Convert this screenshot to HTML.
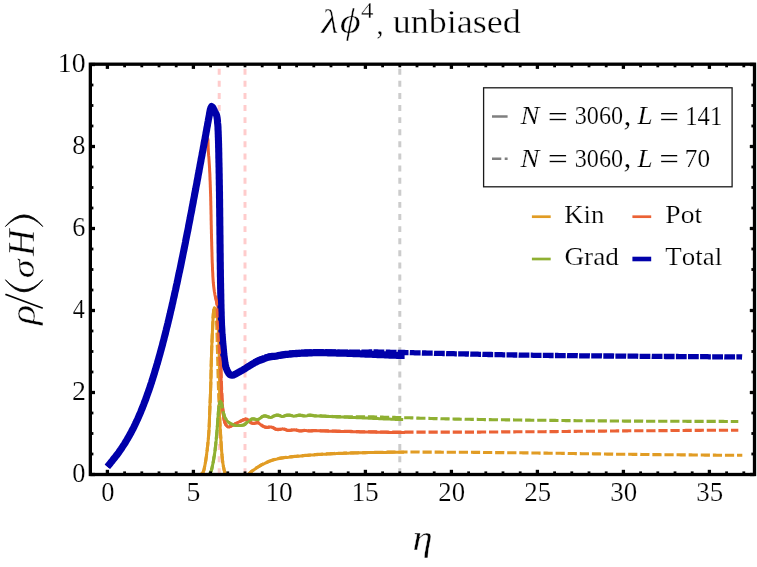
<!DOCTYPE html>
<html><head><meta charset="utf-8"><title>plot</title>
<style>html,body{margin:0;padding:0;background:#fff}svg{display:block}text{font-family:"Liberation Serif",serif;fill:#000;font-kerning:none;white-space:pre}.i{font-style:italic}.e{stroke:#fff;stroke-width:0.38px}.e2{stroke:#fff;stroke-width:0.2px}</style></head><body>
<svg width="757" height="567" viewBox="0 0 757 567">
<rect width="757" height="567" fill="#fff"/>
<defs><clipPath id="c"><rect x="90.3" y="64.2" width="664.1" height="410.3"/></clipPath></defs>
<g clip-path="url(#c)" fill="none" stroke-linejoin="round">
<line x1="219.2" y1="64.2" x2="219.2" y2="474.5" stroke="#ffcccc" stroke-width="3" stroke-dasharray="5.95 6.16" stroke-dashoffset="7.6"/>
<line x1="245.0" y1="64.2" x2="245.0" y2="474.5" stroke="#ffcccc" stroke-width="3" stroke-dasharray="5.95 6.16" stroke-dashoffset="7.6"/>
<line x1="399.8" y1="64.2" x2="399.8" y2="474.5" stroke="#cccccc" stroke-width="3" stroke-dasharray="5.95 6.16" stroke-dashoffset="7.6"/>
<path d="M107.4 474.5L108.9 474.5L110.4 474.5L111.9 474.5L113.4 474.5L114.9 474.5L116.4 474.5L117.9 474.5L119.4 474.5L120.9 474.5L122.4 474.5L123.9 474.5L125.4 474.5L127.0 474.5L128.5 474.5L130.0 474.5L131.5 474.5L133.0 474.5L134.5 474.5L136.0 474.5L137.5 474.5L139.0 474.5L140.5 474.5L142.0 474.5L143.5 474.5L145.0 474.5L146.5 474.5L148.0 474.5L149.5 474.5L151.0 474.5L152.5 474.5L154.0 474.5L155.5 474.5L157.0 474.5L158.5 474.5L160.0 474.5L161.5 474.5L163.0 474.5L164.5 474.5L166.0 474.5L167.5 474.5L169.0 474.5L170.5 474.5L172.0 474.5L173.5 474.5L175.0 474.5L176.5 474.5L178.1 474.5L179.6 474.5L181.1 474.5L182.6 474.5L184.1 474.5L185.6 474.5L187.1 474.5L188.6 474.5L190.1 474.5L191.6 474.5L193.1 474.5L194.6 474.5L196.1 474.5L197.6 474.5L199.2 474.4L200.7 474.4L201.9 473.9L202.9 472.6L203.5 471.3L203.9 469.9L204.3 468.4L204.6 466.9L204.9 465.4L205.2 463.9L205.4 462.5L205.7 461.0L205.9 459.5L206.1 458.0L206.4 456.5L206.6 455.0L206.7 453.5L206.9 452.0L207.1 450.5L207.3 449.0L207.4 447.5L207.6 446.1L207.8 444.6L207.9 443.1L208.1 441.6L208.2 440.1L208.4 438.6L208.5 437.1L208.6 435.6L208.7 434.1L208.8 432.6L208.9 431.1L209.0 429.6L209.1 428.1L209.2 426.6L209.2 425.1L209.3 423.6L209.4 422.1L209.4 420.6L209.5 419.1L209.5 417.6L209.6 416.1L209.6 414.6L209.7 413.1L209.7 411.6L209.8 410.1L209.9 408.6L209.9 407.0L210.0 405.5L210.0 404.0L210.1 402.5L210.2 401.0L210.2 399.5L210.3 398.0L210.4 396.5L210.4 395.0L210.5 393.5L210.5 392.0L210.6 390.5L210.6 389.0L210.7 387.5L210.7 386.0L210.8 384.5L210.8 383.0L210.8 381.5L210.9 380.0L210.9 378.5L211.0 377.0L211.0 375.5L211.0 374.0L211.1 372.5L211.1 371.0L211.1 369.5L211.2 368.0L211.2 366.5L211.2 365.0L211.3 363.5L211.3 362.0L211.3 360.5L211.4 359.0L211.4 357.5L211.5 356.0L211.5 354.5L211.6 353.0L211.6 351.5L211.7 350.0L211.7 348.5L211.8 347.0L211.8 345.5L211.9 344.0L212.0 342.5L212.0 341.0L212.1 339.5L212.2 338.0L212.2 336.4L212.3 334.9L212.4 333.4L212.4 331.9L212.5 330.4L212.6 328.9L212.6 327.4L212.7 325.9L212.8 324.4L212.8 322.9L212.9 321.4L213.0 319.9L213.0 318.4L213.1 316.9L213.2 315.4L213.3 313.9L213.5 312.4L213.7 310.8L214.0 308.9L214.4 307.7L214.8 308.1L215.3 309.8L215.7 311.5L216.1 312.9L216.5 314.4L216.9 315.9L217.2 317.3L217.4 318.8L217.6 320.3L217.7 321.8L217.8 323.3L218.0 324.8L218.1 326.2L218.2 327.7L218.3 329.2L218.3 330.7L218.4 332.2L218.5 333.7L218.6 335.3L218.6 336.8L218.7 338.3L218.8 339.8L218.8 341.3L218.9 342.8L218.9 344.3L219.0 345.8L219.0 347.3L219.0 348.8L219.1 350.3L219.1 351.8L219.1 353.3L219.2 354.8L219.2 356.3L219.2 357.8L219.2 359.3L219.3 360.8L219.3 362.3L219.3 363.8L219.4 365.3L219.4 366.8L219.4 368.4L219.4 369.9L219.5 371.4L219.5 372.9L219.5 374.4L219.5 375.9L219.5 377.4L219.5 378.9L219.6 380.4L219.6 381.9L219.6 383.4L219.6 384.9L219.6 386.4L219.6 387.9L219.6 389.4L219.6 390.9L219.6 392.4L219.6 393.9L219.6 395.4L219.5 396.9L219.5 398.4L219.5 399.9L219.5 401.4L219.5 402.9L219.4 404.4L219.4 405.9L219.4 407.4L219.4 408.9L219.4 410.4L219.4 411.9L219.4 413.4L219.5 414.9L219.5 416.4L219.6 417.9L219.7 419.4L219.7 420.9L219.8 422.4L219.9 423.9L220.0 425.4L220.1 427.0L220.2 428.5L220.3 430.0L220.4 431.5L220.5 433.0L220.6 434.5L220.7 436.0L220.8 437.5L220.8 439.0L220.9 440.5L221.0 442.0L221.1 443.5L221.2 445.0L221.3 446.5L221.4 448.0L221.5 449.5L221.6 451.0L221.8 452.5L221.9 454.0L222.0 455.4L222.2 456.9L222.3 458.4L222.5 459.9L222.7 461.4L222.8 462.9L223.1 464.4L223.3 465.9L223.6 467.4L223.9 468.8L224.2 470.3L224.6 471.8L225.1 473.2L225.7 474.6L226.4 475.9L227.2 477.2L228.2 478.7L229.2 480.1L230.2 481.2L231.4 481.9L232.6 482.0L234.1 482.0L235.7 482.0L237.3 482.0L238.8 482.0L240.2 482.0L241.5 481.5L242.7 480.5L243.8 479.3L244.9 478.1L246.0 477.1L247.0 475.9L248.0 474.8L249.1 473.8L250.2 472.8L251.3 471.8L252.5 470.9L253.7 470.0L254.9 469.1L256.2 468.3L257.4 467.4L258.7 466.7L260.0 465.9L261.3 465.1L262.6 464.4L264.0 463.8L265.3 463.1L266.7 462.5L268.1 461.9L269.5 461.3L270.9 460.8L272.3 460.3L273.7 459.9L275.2 459.5L276.7 459.1L278.1 458.7L279.6 458.5L281.1 458.2L282.6 458.0L284.0 457.8L285.5 457.6L287.0 457.4L288.5 457.3L290.0 457.1L291.5 456.9L293.0 456.8L294.5 456.6L296.0 456.5L297.5 456.3L299.0 456.2L300.5 456.0L302.0 455.9L303.5 455.7L305.0 455.6L306.5 455.5L308.0 455.4L309.5 455.2L311.0 455.1L312.5 455.0L314.0 454.9L315.5 454.8L317.0 454.7L318.5 454.6L320.0 454.5L321.5 454.4L323.0 454.3L324.5 454.2L326.0 454.2L327.5 454.1L329.0 454.0L330.5 453.9L332.0 453.8L333.5 453.8L335.0 453.7L336.5 453.6L338.0 453.6L339.5 453.5L341.0 453.5L342.5 453.4L344.0 453.3L345.5 453.3L347.0 453.2L348.5 453.2L350.0 453.1L351.5 453.0L353.0 453.0L354.5 452.9L356.0 452.9L357.5 452.9L359.0 452.8L360.5 452.8L362.0 452.7L363.5 452.7L365.0 452.7L366.5 452.6L368.0 452.6L369.5 452.6L371.0 452.6L372.5 452.5L374.0 452.5L375.5 452.5L377.0 452.5L378.6 452.5L380.1 452.4L381.6 452.4L383.1 452.4L384.6 452.4L386.1 452.4L387.6 452.3L389.1 452.3L390.6 452.3L392.1 452.3L393.6 452.3L395.1 452.3L396.6 452.2L398.1 452.2L399.6 452.2L401.1 452.2L402.6 452.2L404.1 452.2" stroke="#E19C24" stroke-width="3.0"/>
<path d="M107.4 466.7L108.4 465.5L109.3 464.4L110.3 463.2L111.2 462.1L112.2 460.9L113.1 459.7L114.0 458.5L115.0 457.4L115.9 456.2L116.8 455.0L117.7 453.8L118.6 452.5L119.4 451.3L120.3 450.1L121.2 448.9L122.0 447.6L122.8 446.4L123.7 445.1L124.5 443.8L125.3 442.6L126.0 441.3L126.8 440.0L127.6 438.7L128.3 437.4L129.1 436.1L129.8 434.8L130.5 433.5L131.2 432.1L131.9 430.8L132.6 429.5L133.3 428.1L134.0 426.8L134.6 425.4L135.3 424.1L135.9 422.7L136.6 421.4L137.2 420.0L137.8 418.6L138.4 417.3L139.0 415.9L139.6 414.5L140.2 413.1L140.8 411.7L141.3 410.3L141.9 409.0L142.5 407.6L143.0 406.2L143.6 404.8L144.1 403.4L144.6 402.0L145.2 400.6L145.7 399.1L146.2 397.7L146.7 396.3L147.2 394.9L147.7 393.5L148.2 392.1L148.7 390.7L149.2 389.2L149.7 387.8L150.2 386.4L150.6 385.0L151.1 383.5L151.6 382.1L152.0 380.7L152.5 379.2L152.9 377.8L153.4 376.4L153.8 374.9L154.3 373.5L154.7 372.1L155.2 370.6L155.6 369.2L156.0 367.8L156.4 366.3L156.9 364.9L157.3 363.4L157.7 362.0L158.1 360.5L158.5 359.1L158.9 357.6L159.3 356.2L159.7 354.8L160.1 353.3L160.5 351.9L160.9 350.4L161.3 349.0L161.7 347.5L162.1 346.1L162.5 344.6L162.9 343.2L163.2 341.7L163.6 340.2L164.0 338.8L164.4 337.3L164.7 335.9L165.1 334.4L165.5 333.0L165.8 331.5L166.2 330.1L166.6 328.6L166.9 327.1L167.3 325.7L167.6 324.2L168.0 322.8L168.3 321.3L168.7 319.8L169.0 318.4L169.4 316.9L169.7 315.5L170.1 314.0L170.4 312.5L170.8 311.1L171.1 309.6L171.4 308.1L171.8 306.7L172.1 305.2L172.4 303.7L172.8 302.3L173.1 300.8L173.4 299.3L173.8 297.9L174.1 296.4L174.4 294.9L174.7 293.5L175.1 292.0L175.4 290.5L175.7 289.1L176.0 287.6L176.3 286.1L176.7 284.7L177.0 283.2L177.3 281.7L177.6 280.3L177.9 278.8L178.2 277.3L178.6 275.9L178.9 274.4L179.2 272.9L179.5 271.5L179.8 270.0L180.1 268.5L180.4 267.0L180.7 265.6L181.0 264.1L181.3 262.6L181.6 261.2L181.9 259.7L182.2 258.2L182.5 256.7L182.8 255.3L183.1 253.8L183.4 252.3L183.7 250.9L184.0 249.4L184.3 247.9L184.6 246.4L184.9 245.0L185.2 243.5L185.5 242.0L185.8 240.5L186.1 239.1L186.4 237.6L186.6 236.1L186.9 234.6L187.2 233.2L187.5 231.7L187.8 230.2L188.1 228.8L188.4 227.3L188.7 225.8L188.9 224.3L189.2 222.9L189.5 221.4L189.8 219.9L190.1 218.4L190.4 217.0L190.6 215.5L190.9 214.0L191.2 212.5L191.5 211.0L191.8 209.6L192.0 208.1L192.3 206.6L192.6 205.1L192.9 203.7L193.2 202.2L193.5 200.7L193.8 199.2L194.0 197.8L194.3 196.3L194.6 194.8L194.9 193.4L195.2 191.9L195.5 190.4L195.8 188.9L196.1 187.5L196.4 186.0L196.7 184.5L197.0 183.0L197.2 181.6L197.5 180.1L197.8 178.6L198.1 177.1L198.4 175.7L198.7 174.2L199.0 172.7L199.3 171.2L199.6 169.8L199.9 168.3L200.2 166.8L200.5 165.4L200.8 163.9L201.1 162.4L201.4 160.9L201.7 159.5L202.0 158.0L202.3 156.5L202.6 155.1L202.9 153.6L203.2 152.1L203.5 150.6L203.8 149.2L204.1 147.7L204.5 146.2L204.8 144.8L205.2 143.3L205.6 141.8L206.1 140.0L206.6 138.3L207.1 137.5L207.7 138.6L208.0 140.2L208.0 141.6L208.1 143.1L208.1 144.6L208.2 146.2L208.2 147.7L208.3 149.2L208.3 150.7L208.4 152.2L208.5 153.7L208.6 155.2L208.8 156.7L208.9 158.2L209.0 159.7L209.1 161.2L209.2 162.7L209.3 164.2L209.4 165.7L209.5 167.2L209.6 168.7L209.6 170.2L209.7 171.7L209.8 173.2L209.9 174.7L209.9 176.2L210.0 177.7L210.0 179.2L210.1 180.7L210.2 182.2L210.2 183.7L210.3 185.2L210.3 186.7L210.4 188.2L210.4 189.7L210.5 191.2L210.5 192.7L210.6 194.2L210.6 195.7L210.7 197.2L210.7 198.7L210.7 200.2L210.8 201.7L210.8 203.2L210.8 204.7L210.9 206.2L210.9 207.7L210.9 209.2L211.0 210.7L211.0 212.2L211.0 213.7L211.1 215.2L211.1 216.7L211.1 218.2L211.1 219.7L211.2 221.2L211.2 222.7L211.2 224.2L211.3 225.7L211.3 227.2L211.3 228.7L211.4 230.2L211.4 231.7L211.4 233.2L211.5 234.7L211.5 236.3L211.5 237.8L211.6 239.3L211.6 240.8L211.7 242.3L211.7 243.8L211.7 245.3L211.8 246.8L211.8 248.3L211.9 249.8L211.9 251.3L212.0 252.8L212.0 254.3L212.0 255.8L212.1 257.3L212.1 258.8L212.2 260.3L212.2 261.8L212.3 263.3L212.4 264.8L212.4 266.3L212.5 267.8L212.5 269.3L212.6 270.8L212.7 272.3L212.8 273.8L212.8 275.3L212.9 276.8L213.0 278.3L213.1 279.8L213.2 281.3L213.3 282.8L213.5 284.3L213.6 285.8L213.8 287.3L214.0 288.7L214.2 290.2L214.4 291.7L214.7 293.2L214.9 294.7L215.2 296.2L215.6 297.6L216.0 299.1L216.4 300.5L216.8 302.0L217.1 303.4L217.5 304.9L217.8 306.4L218.0 307.8L218.3 309.3L218.5 310.8L218.6 312.3L218.8 313.8L218.9 315.3L219.0 316.8L219.2 318.3L219.3 319.8L219.4 321.3L219.5 322.8L219.6 324.3L219.7 325.8L219.8 327.3L219.9 328.8L220.1 330.3L220.2 331.8L220.3 333.3L220.4 334.8L220.5 336.3L220.6 337.8L220.7 339.3L220.8 340.8L220.9 342.3L221.0 343.8L221.1 345.3L221.1 346.8L221.2 348.3L221.2 349.8L221.3 351.3L221.3 352.8L221.3 354.3L221.3 355.8L221.3 357.3L221.3 358.8L221.3 360.3L221.2 361.8L221.2 363.3L221.2 364.8L221.2 366.3L221.2 367.8L221.1 369.3L221.1 370.8L221.1 372.3L221.1 373.8L221.1 375.3L221.1 376.8L221.1 378.3L221.1 379.8L221.2 381.3L221.2 382.8L221.2 384.3L221.3 385.8L221.4 387.3L221.4 388.8L221.5 390.3L221.6 391.8L221.7 393.3L221.8 394.8L221.9 396.3L221.9 397.8L222.0 399.3L222.1 400.8L222.2 402.3L222.3 403.8L222.4 405.3L222.5 406.8L222.6 408.3L222.8 409.8L222.9 411.3L223.1 412.8L223.3 414.3L223.4 415.8L223.7 417.3L223.9 418.8L224.2 420.2L224.6 421.7L225.1 423.2L225.7 424.5L226.6 425.8L227.7 426.9L229.1 426.9L230.6 426.4L231.9 425.7L233.2 424.9L234.5 424.2L235.8 423.5L237.2 422.8L238.5 422.2L239.9 421.5L241.3 420.9L242.6 420.2L244.0 419.7L245.5 419.1L246.8 419.4L248.1 420.3L249.1 421.4L250.3 422.4L251.6 423.1L253.1 423.5L254.6 423.4L256.0 423.1L257.4 422.6L258.8 423.2L260.0 424.1L261.2 425.1L262.4 426.0L263.8 426.7L265.2 427.3L266.6 427.5L268.2 427.4L269.6 427.0L271.0 426.9L272.4 427.5L273.8 428.2L275.1 429.0L276.5 429.6L278.0 429.7L279.5 429.6L280.9 429.3L282.3 428.8L283.8 429.1L285.2 429.7L286.7 430.2L288.1 430.5L289.6 430.5L291.1 430.3L292.6 430.1L294.1 429.7L295.5 429.9L297.0 430.4L298.4 430.8L299.9 431.0L301.4 430.9L302.9 430.8L304.4 430.5L305.9 430.6L307.4 430.8L308.9 430.9L310.4 431.0L311.9 430.9L313.4 430.8L314.9 430.7L316.4 430.7L317.9 430.8L319.4 430.8L320.9 430.9L322.4 431.0L323.9 431.1L325.4 431.1L326.9 431.1L328.4 431.2L329.9 431.2L331.4 431.2L332.9 431.3L334.4 431.3L335.9 431.3L337.4 431.4L338.9 431.4L340.4 431.4L341.9 431.4L343.4 431.5L344.9 431.5L346.4 431.6L347.9 431.6L349.4 431.6L350.9 431.7L352.4 431.7L353.9 431.7L355.4 431.8L356.9 431.8L358.4 431.8L359.9 431.9L361.4 431.9L362.9 431.9L364.4 431.9L365.9 432.0L367.4 432.0L368.9 432.0L370.4 432.1L371.9 432.1L373.4 432.1L374.9 432.1L376.4 432.2L377.9 432.2L379.4 432.2L380.9 432.2L382.4 432.3L383.9 432.3L385.4 432.3L386.9 432.3L388.4 432.4L389.9 432.4L391.4 432.4L392.9 432.4L394.4 432.4L395.9 432.5L397.4 432.5L399.0 432.5L400.5 432.5L402.0 432.5L403.5 432.5L405.0 432.5" stroke="#EB6235" stroke-width="3.0"/>
<path d="M107.4 474.5L108.9 474.5L110.4 474.5L111.9 474.5L113.4 474.5L114.9 474.5L116.4 474.5L117.9 474.5L119.4 474.5L121.0 474.5L122.5 474.5L124.0 474.5L125.5 474.5L127.0 474.5L128.5 474.5L130.0 474.5L131.5 474.5L133.0 474.5L134.5 474.5L136.0 474.5L137.5 474.5L139.0 474.5L140.5 474.5L142.0 474.5L143.5 474.5L145.0 474.5L146.5 474.5L148.0 474.5L149.5 474.5L151.0 474.5L152.6 474.5L154.1 474.5L155.6 474.5L157.1 474.5L158.6 474.5L160.1 474.5L161.6 474.5L163.1 474.5L164.6 474.5L166.1 474.5L167.6 474.5L169.1 474.5L170.6 474.5L172.1 474.5L173.6 474.5L175.1 474.5L176.6 474.5L178.1 474.5L179.6 474.5L181.1 474.5L182.6 474.5L184.1 474.5L185.6 474.5L187.1 474.5L188.6 474.5L190.1 474.5L191.6 474.5L193.1 474.5L194.6 474.5L196.2 474.5L197.7 474.5L199.2 474.5L200.7 474.5L202.2 474.5L203.7 474.5L205.2 474.5L206.7 474.5L208.3 474.4L209.5 474.1L210.4 472.8L211.0 471.4L211.5 470.0L211.9 468.5L212.2 467.0L212.5 465.5L212.8 464.1L213.1 462.6L213.4 461.1L213.6 459.6L213.9 458.1L214.1 456.6L214.4 455.2L214.6 453.7L214.8 452.2L215.0 450.7L215.2 449.2L215.3 447.7L215.5 446.2L215.7 444.7L215.8 443.2L216.0 441.7L216.2 440.2L216.3 438.7L216.4 437.2L216.6 435.7L216.7 434.2L216.8 432.7L217.0 431.2L217.1 429.7L217.2 428.2L217.3 426.7L217.5 425.2L217.6 423.7L217.7 422.2L217.8 420.7L217.9 419.2L218.0 417.7L218.1 416.2L218.2 414.7L218.3 413.2L218.4 411.7L218.6 410.2L218.7 408.7L218.9 407.2L219.0 405.7L219.3 404.2L219.6 402.8L220.2 401.2L221.0 402.1L221.5 403.7L221.9 405.1L222.1 406.6L222.4 408.1L222.7 409.6L223.0 411.0L223.4 412.5L223.8 414.0L224.2 415.5L224.6 416.9L225.2 418.2L226.0 419.5L227.0 420.7L228.0 421.8L229.2 422.8L230.5 423.6L231.8 424.2L233.2 424.7L234.7 425.2L236.2 425.5L237.7 425.6L239.2 425.6L240.7 425.5L242.3 425.3L243.6 425.1L244.9 424.4L246.1 423.4L247.2 422.3L248.4 421.4L249.7 420.5L250.9 419.6L252.3 418.9L253.7 419.0L255.2 419.4L256.7 419.8L258.1 419.7L259.3 418.8L260.6 417.9L261.9 417.0L263.3 416.3L264.7 416.0L266.1 416.3L267.6 416.7L269.1 417.3L270.5 417.6L271.9 417.2L273.2 416.4L274.7 415.9L276.1 415.3L277.6 415.2L279.0 415.5L280.5 416.0L281.9 416.5L283.4 416.4L284.8 415.9L286.3 415.5L287.8 415.2L289.3 415.3L290.8 415.6L292.3 415.9L293.7 416.2L295.2 416.1L296.7 415.8L298.2 415.5L299.7 415.3L301.1 415.5L302.6 415.8L304.1 416.0L305.6 415.9L307.1 415.7L308.6 415.4L310.1 415.3L311.6 415.4L313.1 415.7L314.6 415.9L316.1 416.0L317.6 416.0L319.1 416.1L320.6 416.1L322.1 416.2L323.6 416.2L325.1 416.3L326.6 416.4L328.1 416.4L329.6 416.5L331.1 416.6L332.6 416.7L334.1 416.7L335.6 416.8L337.1 416.9L338.6 416.9L340.1 417.0L341.6 417.1L343.1 417.1L344.6 417.2L346.1 417.3L347.6 417.3L349.1 417.4L350.6 417.4L352.1 417.5L353.6 417.6L355.1 417.6L356.7 417.7L358.2 417.7L359.7 417.8L361.2 417.8L362.7 417.9L364.2 418.0L365.7 418.0L367.2 418.1L368.7 418.2L370.2 418.2L371.7 418.3L373.2 418.4L374.7 418.4L376.2 418.5L377.7 418.6L379.2 418.7L380.7 418.7L382.2 418.8L383.7 418.9L385.2 418.9L386.7 419.0L388.2 419.1L389.7 419.1L391.2 419.2L392.7 419.3L394.2 419.3L395.7 419.4L397.2 419.4L398.7 419.5L400.2 419.5L401.7 419.5L403.2 419.6" stroke="#8FB032" stroke-width="3.0"/>
<path d="M107.4 466.7L108.4 465.5L109.3 464.4L110.3 463.2L111.2 462.1L112.2 460.9L113.1 459.7L114.0 458.5L115.0 457.4L115.9 456.2L116.8 455.0L117.7 453.8L118.6 452.6L119.4 451.3L120.3 450.1L121.2 448.9L122.0 447.6L122.8 446.4L123.7 445.1L124.5 443.9L125.3 442.6L126.0 441.3L126.8 440.0L127.6 438.7L128.3 437.4L129.1 436.1L129.8 434.8L130.5 433.5L131.2 432.2L131.9 430.8L132.6 429.5L133.3 428.2L134.0 426.8L134.6 425.5L135.3 424.1L135.9 422.8L136.5 421.4L137.2 420.0L137.8 418.7L138.4 417.3L139.0 415.9L139.6 414.5L140.2 413.2L140.8 411.8L141.3 410.4L141.9 409.0L142.5 407.6L143.0 406.2L143.6 404.8L144.1 403.4L144.6 402.0L145.2 400.6L145.7 399.2L146.2 397.8L146.7 396.4L147.2 394.9L147.7 393.5L148.2 392.1L148.7 390.7L149.2 389.3L149.7 387.9L150.2 386.4L150.6 385.0L151.1 383.6L151.6 382.2L152.0 380.7L152.5 379.3L152.9 377.9L153.4 376.4L153.8 375.0L154.3 373.6L154.7 372.1L155.1 370.7L155.6 369.2L156.0 367.8L156.4 366.4L156.8 364.9L157.3 363.5L157.7 362.0L158.1 360.6L158.5 359.2L158.9 357.7L159.3 356.3L159.7 354.8L160.1 353.4L160.5 351.9L160.9 350.5L161.3 349.0L161.7 347.6L162.1 346.1L162.5 344.7L162.8 343.2L163.2 341.8L163.6 340.3L164.0 338.9L164.3 337.4L164.7 336.0L165.1 334.5L165.5 333.0L165.8 331.6L166.2 330.1L166.5 328.7L166.9 327.2L167.3 325.8L167.6 324.3L168.0 322.8L168.3 321.4L168.7 319.9L169.0 318.5L169.4 317.0L169.7 315.5L170.1 314.1L170.4 312.6L170.7 311.1L171.1 309.7L171.4 308.2L171.8 306.8L172.1 305.3L172.4 303.8L172.8 302.4L173.1 300.9L173.4 299.4L173.7 298.0L174.1 296.5L174.4 295.0L174.7 293.6L175.0 292.1L175.4 290.6L175.7 289.2L176.0 287.7L176.3 286.2L176.6 284.8L177.0 283.3L177.3 281.8L177.6 280.4L177.9 278.9L178.2 277.4L178.5 276.0L178.8 274.5L179.1 273.0L179.5 271.6L179.8 270.1L180.1 268.6L180.4 267.2L180.7 265.7L181.0 264.2L181.3 262.7L181.6 261.3L181.9 259.8L182.2 258.3L182.5 256.9L182.8 255.4L183.1 253.9L183.4 252.4L183.7 251.0L184.0 249.5L184.3 248.0L184.6 246.6L184.9 245.1L185.2 243.6L185.5 242.1L185.7 240.7L186.0 239.2L186.3 237.7L186.6 236.2L186.9 234.8L187.2 233.3L187.5 231.8L187.8 230.4L188.1 228.9L188.4 227.4L188.6 225.9L188.9 224.5L189.2 223.0L189.5 221.5L189.8 220.0L190.1 218.6L190.3 217.1L190.6 215.6L190.9 214.1L191.2 212.7L191.5 211.2L191.8 209.7L192.0 208.2L192.3 206.8L192.6 205.3L192.9 203.8L193.2 202.3L193.4 200.9L193.7 199.4L194.0 197.9L194.3 196.4L194.5 195.0L194.8 193.5L195.1 192.0L195.4 190.5L195.7 189.1L195.9 187.6L196.2 186.1L196.5 184.6L196.8 183.2L197.0 181.7L197.3 180.2L197.6 178.7L197.9 177.3L198.1 175.8L198.4 174.3L198.7 172.8L199.0 171.3L199.2 169.9L199.5 168.4L199.8 166.9L200.0 165.4L200.3 164.0L200.6 162.5L200.9 161.0L201.1 159.5L201.4 158.1L201.7 156.6L202.0 155.1L202.2 153.6L202.5 152.2L202.8 150.7L203.1 149.2L203.3 147.7L203.6 146.3L203.9 144.8L204.1 143.3L204.4 141.8L204.7 140.3L205.0 138.9L205.2 137.4L205.5 135.9L205.8 134.4L206.0 133.0L206.3 131.5L206.6 130.0L206.8 128.5L207.1 127.1L207.4 125.6L207.6 124.1L207.9 122.6L208.2 121.1L208.4 119.7L208.7 118.2L209.0 116.7L209.3 115.2L209.5 113.8L209.8 112.3L210.1 110.8L210.4 109.3L210.9 107.8L211.6 106.6L212.8 107.6L213.5 108.8L214.1 110.2L214.8 111.6L215.5 112.9L216.2 114.2L216.7 115.6L217.0 117.1L217.2 118.6L217.4 120.1L217.5 121.6L217.6 123.1L217.8 124.6L217.9 126.1L218.0 127.6L218.0 129.1L218.1 130.6L218.2 132.1L218.2 133.6L218.3 135.1L218.3 136.6L218.4 138.1L218.4 139.6L218.5 141.1L218.5 142.6L218.6 144.1L218.6 145.6L218.6 147.1L218.7 148.6L218.7 150.1L218.7 151.6L218.8 153.1L218.8 154.6L218.8 156.1L218.8 157.6L218.9 159.1L218.9 160.6L218.9 162.1L219.0 163.6L219.0 165.1L219.0 166.6L219.1 168.1L219.1 169.6L219.1 171.1L219.1 172.6L219.2 174.1L219.2 175.6L219.2 177.1L219.2 178.6L219.3 180.1L219.3 181.6L219.3 183.1L219.3 184.6L219.4 186.1L219.4 187.6L219.4 189.1L219.4 190.6L219.5 192.1L219.5 193.6L219.5 195.1L219.5 196.6L219.5 198.1L219.6 199.6L219.6 201.1L219.6 202.6L219.6 204.1L219.6 205.6L219.6 207.1L219.7 208.6L219.7 210.1L219.7 211.6L219.7 213.1L219.7 214.6L219.7 216.1L219.8 217.6L219.8 219.1L219.8 220.6L219.8 222.1L219.8 223.6L219.8 225.1L219.9 226.7L219.9 228.2L219.9 229.7L219.9 231.2L219.9 232.7L219.9 234.2L220.0 235.7L220.0 237.2L220.0 238.7L220.0 240.2L220.0 241.7L220.0 243.2L220.1 244.7L220.1 246.2L220.1 247.7L220.1 249.2L220.1 250.7L220.1 252.2L220.2 253.7L220.2 255.2L220.2 256.7L220.2 258.2L220.2 259.7L220.2 261.2L220.3 262.7L220.3 264.2L220.3 265.7L220.3 267.2L220.3 268.7L220.4 270.2L220.4 271.7L220.4 273.2L220.4 274.7L220.4 276.2L220.5 277.7L220.5 279.2L220.5 280.7L220.5 282.2L220.6 283.7L220.6 285.2L220.6 286.7L220.6 288.2L220.7 289.7L220.7 291.2L220.7 292.7L220.8 294.2L220.8 295.7L220.8 297.2L220.8 298.7L220.9 300.2L220.9 301.7L220.9 303.2L221.0 304.7L221.0 306.2L221.0 307.7L221.1 309.2L221.1 310.7L221.2 312.2L221.2 313.7L221.2 315.2L221.3 316.7L221.3 318.2L221.4 319.7L221.4 321.2L221.5 322.7L221.5 324.2L221.6 325.7L221.7 327.2L221.8 328.7L221.9 330.2L221.9 331.7L222.0 333.2L222.1 334.7L222.3 336.2L222.4 337.7L222.5 339.2L222.6 340.7L222.7 342.2L222.9 343.7L223.0 345.2L223.2 346.7L223.3 348.2L223.4 349.7L223.6 351.2L223.7 352.7L223.8 354.2L224.0 355.7L224.2 357.1L224.4 358.6L224.6 360.1L224.8 361.6L225.0 363.1L225.3 364.6L225.6 366.0L226.0 367.5L226.5 368.9L227.1 370.3L227.7 371.7L228.5 373.0L229.4 374.2L230.6 375.0L232.1 375.2L233.6 374.9L235.0 374.3L236.3 373.6L237.6 372.9L238.9 372.2L240.3 371.4L241.6 370.7L242.9 369.9L244.2 369.2L245.4 368.4L246.7 367.6L248.0 366.8L249.2 366.0L250.5 365.2L251.8 364.4L253.1 363.7L254.4 362.9L255.7 362.2L257.1 361.5L258.4 360.9L259.8 360.3L261.2 359.8L262.6 359.3L264.0 358.8L265.5 358.2L266.9 357.7L268.3 357.3L269.8 357.0L271.3 356.8L272.8 356.6L274.2 356.4L275.7 356.2L277.2 355.9L278.7 355.6L280.2 355.4L281.6 355.2L283.1 355.0L284.6 354.8L286.1 354.6L287.6 354.4L289.1 354.3L290.6 354.1L292.1 354.0L293.6 353.8L295.1 353.7L296.6 353.6L298.1 353.5L299.6 353.4L301.1 353.3L302.6 353.3L304.1 353.2L305.6 353.1L307.1 353.1L308.6 353.0L310.1 352.9L311.6 352.9L313.1 352.8L314.6 352.8L316.1 352.8L317.6 352.8L319.1 352.8L320.6 352.8L322.1 352.8L323.6 352.8L325.1 352.8L326.6 352.8L328.1 352.9L329.6 352.9L331.1 352.9L332.6 353.0L334.1 353.0L335.6 353.0L337.1 353.1L338.6 353.1L340.1 353.2L341.6 353.2L343.1 353.2L344.6 353.3L346.1 353.3L347.6 353.4L349.1 353.4L350.6 353.5L352.1 353.5L353.6 353.6L355.1 353.6L356.6 353.7L358.1 353.7L359.6 353.8L361.1 353.9L362.6 353.9L364.1 354.0L365.6 354.1L367.1 354.1L368.6 354.2L370.1 354.2L371.6 354.3L373.1 354.4L374.6 354.4L376.1 354.5L377.6 354.6L379.1 354.6L380.6 354.7L382.1 354.8L383.6 354.8L385.1 354.9L386.6 355.0L388.1 355.0L389.6 355.1L391.1 355.2L392.6 355.2L394.1 355.3L395.6 355.3L397.1 355.4L398.6 355.4L400.1 355.4L401.6 355.5L403.1 355.5L404.6 355.5" stroke="#0000AA" stroke-width="7.1"/>
<path d="M201.2 474.3L202.4 473.3L203.2 472.1L203.7 470.8L204.1 469.3L204.4 467.8L204.7 466.3L205.0 464.8L205.3 463.3L205.5 461.9L205.8 460.4L206.0 458.9L206.2 457.4L206.4 455.9L206.6 454.4L206.8 452.9L207.0 451.4L207.2 449.9L207.3 448.4L207.5 447.0L207.7 445.5L207.8 444.0L208.0 442.5L208.1 441.0L208.3 439.5L208.4 438.0L208.5 436.5L208.7 435.0L208.8 433.5L208.9 432.0L209.0 430.5L209.0 429.0L209.1 427.5L209.2 426.0L209.3 424.5L209.3 423.0L209.4 421.5L209.4 420.0L209.5 418.5L209.5 417.0L209.6 415.5L209.6 414.0L209.7 412.5L209.8 411.0L209.8 409.5L209.9 408.0L209.9 406.5L210.0 405.0L210.1 403.5L210.1 402.0L210.2 400.5L210.3 399.0L210.3 397.5L210.4 396.0L210.4 394.5L210.5 393.0L210.5 391.5L210.6 390.0L210.6 388.5L210.7 387.0L210.7 385.5L210.8 384.0L210.8 382.5L210.9 381.0L210.9 379.5L210.9 378.0L211.0 376.5L211.0 375.0L211.0 373.5L211.1 372.0L211.1 370.5L211.1 369.0L211.2 367.5L211.2 366.0L211.2 364.5L211.3 363.0L211.3 361.5L211.4 360.0L211.4 358.5L211.4 357.0L211.5 355.5L211.5 354.0L211.6 352.5L211.6 350.9L211.7 349.4L211.7 347.9L211.8 346.4L211.9 344.9L211.9 343.4L212.0 341.9L212.0 340.4L212.1 338.9L212.2 337.4L212.2 335.9L212.3 334.4L212.4 332.9L212.5 331.4L212.5 329.9L212.6 328.4L212.7 326.9L212.7 325.4L212.8 323.9L212.9 322.4L212.9 320.9L213.0 319.4L213.1 317.9L213.2 316.4L213.3 314.9L213.4 313.4L213.5 312.0L213.8 310.1L214.1 308.4L214.5 307.6L214.9 308.6L215.3 310.5L215.6 312.0L215.8 313.5L216.0 315.0L216.1 316.5L216.3 318.0L216.4 319.5L216.5 321.0L216.6 322.5L216.6 324.0L216.7 325.5L216.8 327.0L216.8 328.5L216.9 330.0L216.9 331.5L217.0 333.0L217.0 334.5L217.1 336.0L217.1 337.5L217.2 339.0L217.2 340.5L217.2 342.0L217.3 343.5L217.3 345.0L217.3 346.5L217.4 348.0L217.4 349.5L217.5 351.0L217.5 352.5L217.6 354.0L217.6 355.5L217.6 357.0L217.7 358.5L217.7 360.0L217.8 361.5L217.8 363.0L217.8 364.5L217.9 366.0L217.9 367.5L217.9 369.0L218.0 370.5L218.0 372.0L218.0 373.5L218.1 375.0L218.1 376.5L218.2 378.0L218.2 379.5L218.2 381.0L218.3 382.5L218.3 384.0L218.4 385.5L218.4 387.0L218.5 388.5L218.5 390.0L218.6 391.5L218.6 393.0L218.7 394.5L218.7 396.0L218.8 397.5L218.9 399.0L219.0 400.5L219.0 402.0L219.1 403.5L219.2 405.0L219.2 406.5L219.3 408.0L219.4 409.5L219.4 411.0L219.5 412.5L219.6 414.0L219.7 415.5L219.7 417.0L219.8 418.5L219.9 420.0L219.9 421.5L220.0 423.0L220.1 424.5L220.1 426.0L220.2 427.5L220.3 429.0L220.4 430.5L220.5 432.0L220.5 433.5L220.6 435.0L220.7 436.5L220.8 438.0L220.9 439.5L221.0 441.0L221.1 442.5L221.2 444.0L221.3 445.5L221.4 447.0L221.5 448.5L221.6 450.0L221.7 451.5L221.8 453.0L221.9 454.5L222.1 456.0L222.2 457.5L222.4 459.0L222.5 460.5L222.7 462.0L222.9 463.5L223.1 465.0L223.4 466.4L223.7 467.9L224.0 469.4L224.4 470.8L224.8 472.3L225.3 473.7L226.0 475.1L226.7 476.3L227.6 477.8L228.5 479.2L229.5 480.6L230.6 481.5L231.8 482.0L233.1 482.0L234.6 482.0L236.2 482.0L237.8 482.0L239.4 482.0L240.7 481.8L241.9 481.1L243.1 480.0L244.2 478.8L245.3 477.7L246.3 476.5L247.2 475.4L248.3 474.3L249.4 473.3L250.5 472.3L251.7 471.3L252.8 470.4L254.0 469.5L255.3 468.6L256.5 467.8L257.8 467.0L259.1 466.2L260.4 465.4L261.7 464.7L263.0 464.0L264.3 463.3L265.7 462.7L267.1 462.1L268.5 461.5L269.8 460.9L271.3 460.4L272.7 459.9L274.1 459.5L275.6 459.1L277.0 458.7L278.5 458.4L280.0 458.1L281.5 457.9L282.9 457.7L284.4 457.5L285.9 457.3L287.4 457.1L288.9 457.0L290.4 456.8L291.9 456.6L293.4 456.5L294.9 456.3L296.4 456.2L297.9 456.0L299.4 455.9L300.9 455.7L302.4 455.6L303.9 455.5L305.3 455.3L306.8 455.2L308.3 455.1L309.8 455.0L311.3 454.9L312.8 454.7L314.3 454.6L315.8 454.5L317.3 454.4L318.8 454.3L320.3 454.2L321.8 454.1L323.3 454.0L324.8 454.0L326.3 453.9L327.8 453.8L329.3 453.7L330.8 453.6L332.3 453.6L333.8 453.5L335.3 453.4L336.8 453.4L338.3 453.3L339.8 453.3L341.3 453.2L342.8 453.2L344.3 453.1L345.8 453.1L347.3 453.0L348.8 453.0L350.3 453.0L351.8 452.9L353.3 452.9L354.8 452.8L356.3 452.8L357.8 452.8L359.3 452.7L360.8 452.7L362.3 452.7L363.8 452.6L365.3 452.6L366.8 452.6L368.3 452.5L369.8 452.5L371.3 452.5L372.9 452.4L374.4 452.4L375.9 452.4L377.4 452.3L378.9 452.3L380.4 452.3L381.9 452.2L383.4 452.2L384.9 452.2L386.4 452.2L387.9 452.1L389.4 452.1L390.9 452.1L392.4 452.1L393.9 452.0L395.4 452.0L396.9 452.0L398.4 452.0L399.9 452.0L401.4 452.0L402.9 452.0L404.4 452.0L405.9 452.0L407.4 452.0L408.9 452.0L410.4 452.0L411.9 452.0L413.4 452.0L414.9 452.0L416.4 452.0L417.9 452.0L419.4 452.0L420.9 452.1L422.4 452.1L423.9 452.1L425.4 452.1L426.9 452.1L428.4 452.1L429.9 452.1L431.4 452.1L432.9 452.1L434.4 452.1L435.9 452.1L437.4 452.1L438.9 452.1L440.4 452.1L441.9 452.2L443.4 452.2L444.9 452.2L446.4 452.2L447.9 452.2L449.4 452.2L450.9 452.2L452.4 452.2L453.9 452.2L455.4 452.2L456.9 452.2L458.4 452.3L459.9 452.3L461.4 452.3L462.9 452.3L464.5 452.3L466.0 452.3L467.5 452.3L469.0 452.3L470.5 452.3L472.0 452.3L473.5 452.4L475.0 452.4L476.5 452.4L478.0 452.4L479.5 452.4L481.0 452.4L482.5 452.4L484.0 452.5L485.5 452.5L487.0 452.5L488.5 452.5L490.0 452.5L491.5 452.5L493.0 452.5L494.5 452.6L496.0 452.6L497.5 452.6L499.0 452.6L500.5 452.6L502.0 452.6L503.5 452.6L505.0 452.7L506.5 452.7L508.0 452.7L509.5 452.7L511.0 452.7L512.5 452.7L514.0 452.8L515.5 452.8L517.0 452.8L518.5 452.8L520.0 452.8L521.5 452.8L523.0 452.9L524.5 452.9L526.0 452.9L527.5 452.9L529.0 452.9L530.5 453.0L532.0 453.0L533.5 453.0L535.0 453.0L536.5 453.0L538.0 453.0L539.5 453.1L541.0 453.1L542.5 453.1L544.0 453.1L545.5 453.1L547.0 453.1L548.5 453.2L550.0 453.2L551.5 453.2L553.0 453.2L554.5 453.3L556.1 453.3L557.6 453.3L559.1 453.3L560.6 453.3L562.1 453.4L563.6 453.4L565.1 453.4L566.6 453.4L568.1 453.5L569.6 453.5L571.1 453.5L572.6 453.5L574.1 453.5L575.6 453.6L577.1 453.6L578.6 453.6L580.1 453.6L581.6 453.7L583.1 453.7L584.6 453.7L586.1 453.7L587.6 453.8L589.1 453.8L590.6 453.8L592.1 453.8L593.6 453.9L595.1 453.9L596.6 453.9L598.1 453.9L599.6 453.9L601.1 454.0L602.6 454.0L604.1 454.0L605.6 454.0L607.1 454.1L608.6 454.1L610.1 454.1L611.6 454.1L613.1 454.1L614.6 454.2L616.1 454.2L617.6 454.2L619.1 454.2L620.6 454.2L622.1 454.2L623.6 454.3L625.1 454.3L626.6 454.3L628.1 454.3L629.6 454.3L631.1 454.3L632.6 454.4L634.1 454.4L635.6 454.4L637.1 454.4L638.6 454.4L640.1 454.4L641.6 454.5L643.1 454.5L644.6 454.5L646.1 454.5L647.6 454.5L649.1 454.5L650.7 454.6L652.2 454.6L653.7 454.6L655.2 454.6L656.7 454.6L658.2 454.6L659.7 454.6L661.2 454.7L662.7 454.7L664.2 454.7L665.7 454.7L667.2 454.7L668.7 454.7L670.2 454.8L671.7 454.8L673.2 454.8L674.7 454.8L676.2 454.8L677.7 454.8L679.2 454.8L680.7 454.9L682.2 454.9L683.7 454.9L685.2 454.9L686.7 454.9L688.2 454.9L689.7 454.9L691.2 454.9L692.7 455.0L694.2 455.0L695.7 455.0L697.2 455.0L698.7 455.0L700.2 455.0L701.7 455.0L703.2 455.0L704.7 455.1L706.2 455.1L707.7 455.1L709.2 455.1L710.7 455.1L712.2 455.1L713.7 455.1L715.2 455.1L716.7 455.2L718.2 455.2L719.7 455.2L721.2 455.2L722.7 455.2L724.2 455.2L725.7 455.2L727.2 455.2L728.7 455.2L730.2 455.3L731.7 455.3L733.2 455.3L734.7 455.3L736.2 455.3L737.7 455.3L739.2 455.3L740.8 455.3L742.3 455.3" stroke="#E19C24" stroke-width="3.1" stroke-dasharray="9.2 2.9"/>
<path d="M215.3 296.5L215.7 297.9L216.1 299.4L216.4 300.9L216.6 302.3L216.8 303.8L217.0 305.3L217.1 306.8L217.2 308.3L217.3 309.8L217.4 311.3L217.5 312.8L217.5 314.3L217.6 315.8L217.7 317.3L217.7 318.8L217.8 320.3L217.8 321.8L217.9 323.3L218.0 324.8L218.1 326.3L218.2 327.8L218.2 329.3L218.3 330.8L218.4 332.3L218.5 333.8L218.6 335.3L218.7 336.8L218.8 338.3L218.8 339.8L218.9 341.3L219.0 342.8L219.1 344.3L219.2 345.8L219.3 347.3L219.4 348.8L219.5 350.3L219.6 351.8L219.7 353.3L219.7 354.8L219.8 356.3L219.9 357.8L220.0 359.3L220.1 360.8L220.2 362.3L220.3 363.8L220.4 365.3L220.5 366.8L220.6 368.3L220.7 369.8L220.8 371.3L220.9 372.8L221.0 374.3L221.1 375.7L221.1 377.2L221.2 378.7L221.3 380.2L221.3 381.7L221.4 383.2L221.5 384.7L221.5 386.2L221.6 387.7L221.6 389.2L221.7 390.7L221.8 392.2L221.8 393.7L221.9 395.2L221.9 396.7L222.0 398.2L222.1 399.7L222.2 401.2L222.3 402.7L222.3 404.2L222.4 405.7L222.6 407.2L222.7 408.7L222.8 410.2L223.0 411.7L223.1 413.2L223.3 414.7L223.5 416.2L223.7 417.7L224.0 419.2L224.3 420.6L224.7 422.1L225.3 423.5L225.9 424.8L226.8 426.1L228.1 427.0L229.5 426.8L230.9 426.2L232.2 425.5L233.5 424.7L234.8 424.0L236.2 423.3L237.5 422.6L238.9 422.0L240.2 421.3L241.5 420.6L242.9 420.0L244.3 419.4L245.7 418.9L247.1 419.3L248.3 420.3L249.4 421.4L250.5 422.3L251.9 423.0L253.4 423.2L254.9 423.1L256.3 422.7L257.7 422.4L259.0 423.2L260.3 424.1L261.5 425.0L262.7 425.9L264.0 426.6L265.5 427.1L267.0 427.2L268.5 427.2L269.9 426.7L271.3 426.7L272.7 427.4L274.0 428.1L275.4 428.9L276.8 429.4L278.3 429.4L279.8 429.4L281.2 428.9L282.6 428.6L284.1 429.0L285.5 429.5L286.9 430.0L288.4 430.2L289.9 430.2L291.4 430.1L292.9 429.7L294.3 429.5L295.8 429.8L297.2 430.2L298.7 430.6L300.2 430.7L301.7 430.7L303.2 430.5L304.6 430.3L306.1 430.4L307.6 430.6L309.1 430.7L310.6 430.7L312.1 430.6L313.6 430.5L315.1 430.5L316.6 430.5L318.1 430.5L319.6 430.6L321.1 430.7L322.6 430.8L324.1 430.8L325.6 430.9L327.1 430.9L328.6 430.9L330.1 431.0L331.6 431.0L333.1 431.0L334.6 431.0L336.1 431.1L337.6 431.1L339.1 431.1L340.6 431.2L342.1 431.2L343.6 431.3L345.1 431.3L346.6 431.3L348.1 431.4L349.6 431.4L351.1 431.4L352.6 431.5L354.1 431.5L355.6 431.6L357.1 431.6L358.6 431.6L360.1 431.7L361.6 431.7L363.1 431.7L364.6 431.8L366.1 431.8L367.6 431.8L369.1 431.8L370.6 431.9L372.1 431.9L373.6 431.9L375.1 431.9L376.6 431.9L378.1 432.0L379.6 432.0L381.1 432.0L382.6 432.0L384.1 432.0L385.6 432.0L387.1 432.1L388.6 432.1L390.1 432.1L391.6 432.1L393.1 432.1L394.6 432.1L396.1 432.1L397.6 432.1L399.1 432.1L400.6 432.1L402.1 432.1L403.6 432.1L405.1 432.1L406.6 432.1L408.1 432.1L409.6 432.1L411.1 432.1L412.6 432.1L414.1 432.1L415.6 432.1L417.1 432.1L418.6 432.1L420.1 432.1L421.6 432.1L423.1 432.1L424.6 432.1L426.1 432.1L427.7 432.1L429.2 432.1L430.7 432.1L432.2 432.1L433.7 432.1L435.2 432.1L436.7 432.1L438.2 432.1L439.7 432.1L441.2 432.1L442.7 432.1L444.2 432.1L445.7 432.1L447.2 432.1L448.7 432.1L450.2 432.1L451.7 432.1L453.2 432.1L454.7 432.1L456.2 432.1L457.7 432.1L459.2 432.1L460.7 432.1L462.2 432.1L463.7 432.1L465.2 432.1L466.7 432.1L468.2 432.1L469.7 432.1L471.2 432.1L472.7 432.1L474.2 432.1L475.7 432.1L477.2 432.1L478.7 432.1L480.2 432.1L481.7 432.0L483.2 432.0L484.7 432.0L486.2 432.0L487.7 432.0L489.2 432.0L490.7 432.0L492.2 432.0L493.7 432.0L495.2 432.0L496.7 432.0L498.2 432.0L499.7 432.0L501.2 431.9L502.7 431.9L504.2 431.9L505.7 431.9L507.2 431.9L508.7 431.9L510.2 431.9L511.7 431.9L513.2 431.9L514.7 431.9L516.2 431.8L517.7 431.8L519.2 431.8L520.7 431.8L522.2 431.8L523.7 431.8L525.2 431.8L526.7 431.8L528.2 431.8L529.7 431.8L531.2 431.8L532.7 431.7L534.2 431.7L535.7 431.7L537.2 431.7L538.7 431.7L540.2 431.7L541.7 431.7L543.2 431.7L544.7 431.7L546.2 431.6L547.7 431.6L549.2 431.6L550.7 431.6L552.2 431.6L553.7 431.6L555.2 431.6L556.7 431.6L558.2 431.5L559.7 431.5L561.2 431.5L562.7 431.5L564.2 431.5L565.7 431.5L567.2 431.5L568.7 431.4L570.2 431.4L571.7 431.4L573.2 431.4L574.7 431.4L576.2 431.4L577.7 431.3L579.2 431.3L580.7 431.3L582.2 431.3L583.7 431.3L585.2 431.3L586.7 431.2L588.2 431.2L589.7 431.2L591.2 431.2L592.7 431.2L594.2 431.2L595.7 431.2L597.2 431.1L598.7 431.1L600.2 431.1L601.7 431.1L603.2 431.1L604.7 431.1L606.2 431.0L607.7 431.0L609.2 431.0L610.7 431.0L612.2 431.0L613.7 431.0L615.2 431.0L616.7 430.9L618.2 430.9L619.7 430.9L621.2 430.9L622.7 430.9L624.2 430.9L625.7 430.9L627.2 430.9L628.7 430.8L630.2 430.8L631.7 430.8L633.2 430.8L634.7 430.8L636.2 430.8L637.7 430.8L639.2 430.8L640.7 430.8L642.3 430.7L643.8 430.7L645.3 430.7L646.8 430.7L648.3 430.7L649.8 430.7L651.3 430.7L652.8 430.7L654.3 430.7L655.8 430.6L657.3 430.6L658.8 430.6L660.3 430.6L661.8 430.6L663.3 430.6L664.8 430.6L666.3 430.6L667.8 430.6L669.3 430.6L670.8 430.5L672.3 430.5L673.8 430.5L675.3 430.5L676.8 430.5L678.3 430.5L679.8 430.5L681.3 430.5L682.8 430.5L684.3 430.5L685.8 430.4L687.3 430.4L688.8 430.4L690.3 430.4L691.8 430.4L693.3 430.4L694.8 430.4L696.3 430.4L697.8 430.4L699.3 430.4L700.8 430.4L702.3 430.3L703.8 430.3L705.3 430.3L706.8 430.3L708.3 430.3L709.8 430.3L711.3 430.3L712.8 430.3L714.3 430.3L715.8 430.3L717.3 430.3L718.8 430.2L720.3 430.2L721.8 430.2L723.3 430.2L724.8 430.2L726.3 430.2L727.8 430.2L729.3 430.2L730.8 430.2L732.3 430.2L733.8 430.2L735.3 430.2L736.8 430.2L738.3 430.2" stroke="#EB6235" stroke-width="3.1" stroke-dasharray="9.2 2.9"/>
<path d="M209.2 474.3L210.2 473.1L210.9 471.8L211.4 470.4L211.8 469.0L212.1 467.5L212.4 466.0L212.7 464.5L213.0 463.1L213.3 461.6L213.6 460.1L213.8 458.6L214.0 457.2L214.3 455.7L214.5 454.2L214.7 452.7L214.9 451.2L215.1 449.7L215.3 448.2L215.5 446.7L215.6 445.3L215.8 443.8L215.9 442.3L216.1 440.8L216.2 439.3L216.4 437.8L216.5 436.3L216.7 434.8L216.8 433.3L216.9 431.8L217.1 430.3L217.2 428.8L217.3 427.3L217.4 425.8L217.5 424.3L217.6 422.8L217.7 421.3L217.8 419.8L217.9 418.3L218.0 416.8L218.1 415.3L218.3 413.8L218.4 412.3L218.5 410.9L218.7 409.4L218.8 407.8L219.0 406.3L219.2 404.8L219.4 403.4L219.9 401.7L220.6 401.5L221.3 403.1L221.7 404.5L222.0 405.9L222.3 407.4L222.6 408.9L222.9 410.4L223.2 411.9L223.6 413.4L224.0 414.8L224.4 416.3L224.9 417.6L225.7 418.9L226.5 420.2L227.5 421.3L228.6 422.3L229.9 423.3L231.2 423.9L232.5 424.5L234.0 425.0L235.5 425.4L237.0 425.6L238.5 425.6L240.0 425.5L241.6 425.3L243.0 425.1L244.3 424.7L245.5 423.7L246.6 422.6L247.8 421.7L249.0 420.7L250.3 419.9L251.5 419.0L252.9 418.7L254.4 418.9L255.9 419.3L257.3 419.6L258.6 419.1L259.9 418.1L261.2 417.2L262.5 416.4L263.9 415.8L265.3 415.8L266.8 416.2L268.2 416.7L269.7 417.2L271.1 417.3L272.5 416.6L273.8 415.9L275.3 415.4L276.7 415.0L278.2 415.1L279.6 415.5L281.1 415.9L282.5 416.2L284.0 415.9L285.4 415.5L286.9 415.1L288.4 415.0L289.9 415.1L291.4 415.4L292.8 415.7L294.3 415.9L295.8 415.7L297.3 415.4L298.8 415.1L300.2 415.1L301.7 415.4L303.2 415.6L304.7 415.7L306.2 415.6L307.7 415.3L309.2 415.1L310.7 415.1L312.1 415.2L313.6 415.5L315.1 415.7L316.6 415.7L318.1 415.8L319.6 415.9L321.1 415.9L322.6 416.0L324.1 416.0L325.6 416.1L327.1 416.2L328.6 416.2L330.1 416.3L331.6 416.4L333.1 416.5L334.6 416.5L336.1 416.6L337.6 416.6L339.1 416.6L340.6 416.6L342.1 416.7L343.6 416.7L345.1 416.7L346.6 416.7L348.1 416.7L349.6 416.7L351.1 416.7L352.6 416.8L354.1 416.8L355.6 416.8L357.1 416.8L358.6 416.8L360.1 416.8L361.6 416.8L363.1 416.8L364.6 416.8L366.1 416.9L367.6 416.9L369.1 416.9L370.6 416.9L372.1 416.9L373.6 416.9L375.1 417.0L376.6 417.0L378.1 417.0L379.6 417.1L381.1 417.1L382.6 417.1L384.1 417.2L385.6 417.2L387.1 417.2L388.6 417.3L390.1 417.3L391.6 417.3L393.1 417.4L394.6 417.4L396.1 417.5L397.6 417.5L399.1 417.5L400.6 417.6L402.1 417.6L403.6 417.7L405.1 417.7L406.6 417.7L408.1 417.8L409.6 417.8L411.1 417.9L412.6 417.9L414.1 418.0L415.6 418.0L417.1 418.1L418.6 418.1L420.1 418.2L421.6 418.2L423.1 418.2L424.6 418.3L426.1 418.3L427.6 418.4L429.1 418.4L430.6 418.5L432.1 418.5L433.6 418.6L435.1 418.6L436.6 418.6L438.1 418.7L439.6 418.7L441.1 418.8L442.6 418.8L444.1 418.8L445.6 418.9L447.1 418.9L448.6 418.9L450.1 419.0L451.6 419.0L453.1 419.0L454.6 419.1L456.2 419.1L457.7 419.1L459.2 419.1L460.7 419.2L462.2 419.2L463.7 419.2L465.2 419.3L466.7 419.3L468.2 419.3L469.7 419.3L471.2 419.4L472.7 419.4L474.2 419.4L475.7 419.4L477.2 419.4L478.7 419.5L480.2 419.5L481.7 419.5L483.2 419.5L484.7 419.6L486.2 419.6L487.7 419.6L489.2 419.6L490.7 419.6L492.2 419.7L493.7 419.7L495.2 419.7L496.7 419.7L498.2 419.8L499.7 419.8L501.2 419.8L502.7 419.8L504.2 419.8L505.7 419.9L507.2 419.9L508.7 419.9L510.2 419.9L511.7 419.9L513.2 419.9L514.7 420.0L516.2 420.0L517.7 420.0L519.2 420.0L520.7 420.0L522.2 420.1L523.7 420.1L525.2 420.1L526.7 420.1L528.2 420.1L529.7 420.1L531.2 420.2L532.7 420.2L534.2 420.2L535.7 420.2L537.2 420.2L538.7 420.2L540.2 420.3L541.7 420.3L543.2 420.3L544.7 420.3L546.2 420.3L547.7 420.3L549.2 420.4L550.7 420.4L552.2 420.4L553.7 420.4L555.2 420.4L556.7 420.5L558.2 420.5L559.7 420.5L561.2 420.5L562.7 420.5L564.2 420.5L565.7 420.6L567.2 420.6L568.7 420.6L570.2 420.6L571.7 420.6L573.2 420.6L574.7 420.6L576.2 420.7L577.7 420.7L579.2 420.7L580.7 420.7L582.2 420.7L583.7 420.7L585.2 420.8L586.7 420.8L588.2 420.8L589.7 420.8L591.2 420.8L592.7 420.8L594.2 420.8L595.7 420.9L597.2 420.9L598.7 420.9L600.2 420.9L601.7 420.9L603.2 420.9L604.7 420.9L606.2 420.9L607.7 420.9L609.2 421.0L610.7 421.0L612.2 421.0L613.7 421.0L615.2 421.0L616.7 421.0L618.2 421.0L619.7 421.0L621.2 421.0L622.7 421.0L624.2 421.1L625.7 421.1L627.2 421.1L628.7 421.1L630.2 421.1L631.7 421.1L633.2 421.1L634.7 421.1L636.2 421.1L637.7 421.1L639.2 421.1L640.7 421.1L642.2 421.1L643.7 421.2L645.2 421.2L646.7 421.2L648.2 421.2L649.7 421.2L651.2 421.2L652.7 421.2L654.2 421.2L655.7 421.2L657.3 421.2L658.8 421.2L660.3 421.2L661.8 421.2L663.3 421.3L664.8 421.3L666.3 421.3L667.8 421.3L669.3 421.3L670.8 421.3L672.3 421.3L673.8 421.3L675.3 421.3L676.8 421.3L678.3 421.3L679.8 421.3L681.3 421.3L682.8 421.3L684.3 421.3L685.8 421.3L687.3 421.4L688.8 421.4L690.3 421.4L691.8 421.4L693.3 421.4L694.8 421.4L696.3 421.4L697.8 421.4L699.3 421.4L700.8 421.4L702.3 421.4L703.8 421.4L705.3 421.4L706.8 421.4L708.3 421.4L709.8 421.4L711.3 421.4L712.8 421.4L714.3 421.4L715.8 421.4L717.3 421.4L718.8 421.4L720.3 421.4L721.8 421.4L723.3 421.4L724.8 421.5L726.3 421.5L727.8 421.5L729.3 421.5L730.8 421.5L732.3 421.5L733.8 421.5L735.3 421.5L736.8 421.5L738.3 421.5" stroke="#8FB032" stroke-width="3.1" stroke-dasharray="9.2 2.9"/>
<path d="M107.4 466.7L108.4 465.5L109.3 464.4L110.3 463.2L111.2 462.1L112.2 460.9L113.1 459.7L114.0 458.5L115.0 457.4L115.9 456.2L116.8 455.0L117.7 453.8L118.6 452.6L119.4 451.3L120.3 450.1L121.2 448.9L122.0 447.6L122.8 446.4L123.7 445.1L124.5 443.8L125.3 442.6L126.0 441.3L126.8 440.0L127.6 438.7L128.3 437.4L129.1 436.1L129.8 434.8L130.5 433.5L131.2 432.2L131.9 430.8L132.6 429.5L133.3 428.1L134.0 426.8L134.6 425.5L135.3 424.1L135.9 422.7L136.6 421.4L137.2 420.0L137.8 418.6L138.4 417.3L139.0 415.9L139.6 414.5L140.2 413.1L140.8 411.8L141.3 410.4L141.9 409.0L142.5 407.6L143.0 406.2L143.6 404.8L144.1 403.4L144.6 402.0L145.2 400.6L145.7 399.2L146.2 397.8L146.7 396.3L147.2 394.9L147.7 393.5L148.2 392.1L148.7 390.7L149.2 389.3L149.7 387.8L150.2 386.4L150.6 385.0L151.1 383.6L151.6 382.1L152.0 380.7L152.5 379.3L152.9 377.8L153.4 376.4L153.8 375.0L154.3 373.5L154.7 372.1L155.1 370.7L155.6 369.2L156.0 367.8L156.4 366.3L156.9 364.9L157.3 363.5L157.7 362.0L158.1 360.6L158.5 359.1L158.9 357.7L159.3 356.2L159.7 354.8L160.1 353.3L160.5 351.9L160.9 350.4L161.3 349.0L161.7 347.5L162.1 346.1L162.5 344.6L162.8 343.2L163.2 341.7L163.6 340.3L164.0 338.8L164.4 337.4L164.7 335.9L165.1 334.5L165.5 333.0L165.8 331.6L166.2 330.1L166.5 328.6L166.9 327.2L167.3 325.7L167.6 324.3L168.0 322.8L168.3 321.3L168.7 319.9L169.0 318.4L169.4 317.0L169.7 315.5L170.1 314.0L170.4 312.6L170.7 311.1L171.1 309.6L171.4 308.2L171.8 306.7L172.1 305.3L172.4 303.8L172.8 302.3L173.1 300.9L173.4 299.4L173.8 297.9L174.1 296.5L174.4 295.0L174.7 293.5L175.1 292.1L175.4 290.6L175.7 289.1L176.0 287.7L176.3 286.2L176.7 284.7L177.0 283.3L177.3 281.8L177.6 280.3L177.9 278.9L178.2 277.4L178.5 275.9L178.8 274.5L179.2 273.0L179.5 271.5L179.8 270.0L180.1 268.6L180.4 267.1L180.7 265.6L181.0 264.2L181.3 262.7L181.6 261.2L181.9 259.8L182.2 258.3L182.5 256.8L182.8 255.3L183.1 253.9L183.4 252.4L183.7 250.9L184.0 249.4L184.3 248.0L184.6 246.5L184.9 245.0L185.2 243.6L185.5 242.1L185.8 240.6L186.1 239.1L186.3 237.7L186.6 236.2L186.9 234.7L187.2 233.2L187.5 231.8L187.8 230.3L188.1 228.8L188.4 227.4L188.6 225.9L188.9 224.4L189.2 222.9L189.5 221.5L189.8 220.0L190.1 218.5L190.4 217.0L190.6 215.6L190.9 214.1L191.2 212.6L191.5 211.1L191.8 209.7L192.0 208.2L192.3 206.7L192.6 205.2L192.9 203.8L193.2 202.3L193.4 200.8L193.7 199.3L194.0 197.9L194.3 196.4L194.6 194.9L194.8 193.4L195.1 191.9L195.4 190.5L195.7 189.0L195.9 187.5L196.2 186.0L196.5 184.6L196.8 183.1L197.0 181.6L197.3 180.1L197.6 178.7L197.9 177.2L198.1 175.7L198.4 174.2L198.7 172.8L199.0 171.3L199.2 169.8L199.5 168.3L199.8 166.9L200.1 165.4L200.3 163.9L200.6 162.4L200.9 160.9L201.2 159.5L201.4 158.0L201.7 156.5L202.0 155.0L202.2 153.6L202.5 152.1L202.8 150.6L203.1 149.1L203.3 147.7L203.6 146.2L203.9 144.7L204.2 143.2L204.4 141.7L204.7 140.3L205.0 138.8L205.3 137.3L205.5 135.8L205.8 134.4L206.1 132.9L206.3 131.4L206.6 129.9L206.9 128.5L207.1 127.0L207.4 125.5L207.6 124.0L207.9 122.5L208.2 121.1L208.5 119.6L208.7 118.1L209.0 116.6L209.3 115.2L209.6 113.7L209.8 112.2L210.1 110.7L210.4 109.2L210.9 107.7L211.7 106.6L212.8 107.6L213.6 108.9L214.2 110.3L214.8 111.6L215.6 113.0L216.2 114.3L216.7 115.7L217.0 117.2L217.2 118.7L217.4 120.2L217.5 121.7L217.6 123.2L217.8 124.7L217.9 126.2L218.0 127.7L218.0 129.2L218.1 130.7L218.2 132.2L218.2 133.7L218.3 135.2L218.3 136.7L218.4 138.2L218.4 139.7L218.5 141.2L218.5 142.7L218.6 144.2L218.6 145.7L218.6 147.2L218.7 148.7L218.7 150.2L218.7 151.7L218.8 153.2L218.8 154.7L218.8 156.2L218.8 157.7L218.9 159.2L218.9 160.7L218.9 162.2L219.0 163.7L219.0 165.2L219.0 166.7L219.1 168.2L219.1 169.7L219.1 171.2L219.1 172.7L219.2 174.2L219.2 175.7L219.2 177.2L219.2 178.7L219.3 180.2L219.3 181.7L219.3 183.2L219.3 184.7L219.4 186.2L219.4 187.7L219.4 189.2L219.4 190.7L219.5 192.2L219.5 193.7L219.5 195.2L219.5 196.7L219.5 198.2L219.6 199.7L219.6 201.2L219.6 202.7L219.6 204.2L219.6 205.7L219.7 207.2L219.7 208.7L219.7 210.2L219.7 211.7L219.7 213.2L219.7 214.7L219.7 216.2L219.8 217.8L219.8 219.3L219.8 220.8L219.8 222.3L219.8 223.8L219.8 225.3L219.9 226.8L219.9 228.3L219.9 229.8L219.9 231.3L219.9 232.8L219.9 234.3L220.0 235.8L220.0 237.3L220.0 238.8L220.0 240.3L220.0 241.8L220.0 243.3L220.1 244.8L220.1 246.3L220.1 247.8L220.1 249.3L220.1 250.8L220.1 252.3L220.2 253.8L220.2 255.3L220.2 256.8L220.2 258.3L220.2 259.8L220.2 261.3L220.3 262.8L220.3 264.3L220.3 265.8L220.3 267.3L220.3 268.8L220.4 270.3L220.4 271.8L220.4 273.3L220.4 274.8L220.4 276.3L220.5 277.8L220.5 279.3L220.5 280.8L220.5 282.3L220.6 283.8L220.6 285.3L220.6 286.8L220.6 288.3L220.7 289.8L220.7 291.3L220.7 292.8L220.8 294.3L220.8 295.8L220.8 297.3L220.8 298.8L220.9 300.3L220.9 301.8L220.9 303.3L221.0 304.8L221.0 306.3L221.0 307.8L221.1 309.3L221.1 310.8L221.2 312.3L221.2 313.9L221.2 315.4L221.3 316.9L221.3 318.4L221.4 319.9L221.4 321.4L221.5 322.9L221.6 324.4L221.6 325.9L221.7 327.4L221.8 328.9L221.9 330.4L222.0 331.9L222.1 333.4L222.2 334.9L222.3 336.3L222.4 337.8L222.5 339.3L222.6 340.8L222.7 342.3L222.9 343.8L223.0 345.3L223.2 346.8L223.3 348.3L223.4 349.8L223.6 351.3L223.7 352.8L223.8 354.3L224.0 355.8L224.2 357.3L224.4 358.8L224.6 360.3L224.8 361.7L225.1 363.2L225.3 364.7L225.7 366.2L226.1 367.6L226.6 369.0L227.1 370.4L227.8 371.8L228.5 373.1L229.5 374.3L230.8 375.1L232.2 375.1L233.7 374.8L235.1 374.3L236.4 373.5L237.7 372.8L239.0 372.1L240.3 371.3L241.6 370.5L242.9 369.7L244.1 368.9L245.4 368.0L246.6 367.2L247.8 366.3L249.1 365.4L250.3 364.6L251.5 363.7L252.8 362.9L254.1 362.1L255.4 361.3L256.7 360.6L258.0 359.9L259.4 359.3L260.8 358.8L262.2 358.3L263.6 357.8L265.0 357.3L266.5 356.7L267.9 356.3L269.3 355.9L270.8 355.7L272.3 355.5L273.8 355.3L275.3 355.1L276.8 354.8L278.2 354.6L279.7 354.3L281.2 354.1L282.7 353.9L284.2 353.7L285.7 353.5L287.2 353.3L288.7 353.2L290.2 353.0L291.6 352.9L293.1 352.7L294.6 352.6L296.1 352.5L297.6 352.4L299.1 352.3L300.6 352.2L302.1 352.1L303.6 352.1L305.1 352.0L306.6 351.9L308.1 351.9L309.6 351.8L311.1 351.8L312.6 351.7L314.1 351.7L315.6 351.6L317.1 351.6L318.6 351.6L320.1 351.6L321.6 351.6L323.2 351.7L324.7 351.7L326.2 351.7L327.7 351.8L329.2 351.8L330.7 351.8L332.2 351.9L333.7 351.9L335.2 352.0L336.7 352.0L338.2 352.1L339.7 352.1L341.2 352.1L342.7 352.2L344.2 352.2L345.7 352.2L347.2 352.2L348.7 352.2L350.2 352.2L351.7 352.2L353.2 352.2L354.7 352.2L356.2 352.2L357.7 352.2L359.2 352.2L360.7 352.1L362.2 352.1L363.7 352.1L365.2 352.1L366.7 352.1L368.2 352.1L369.7 352.0L371.2 352.0L372.7 352.0L374.2 352.0L375.7 352.0L377.2 352.0L378.7 352.1L380.2 352.1L381.7 352.1L383.2 352.1L384.7 352.1L386.2 352.2L387.7 352.2L389.2 352.2L390.7 352.3L392.2 352.3L393.7 352.3L395.2 352.3L396.7 352.4L398.2 352.4L399.7 352.4L401.2 352.5L402.7 352.5L404.2 352.5L405.7 352.6L407.2 352.6L408.7 352.6L410.2 352.7L411.7 352.7L413.2 352.7L414.7 352.8L416.2 352.8L417.7 352.8L419.2 352.9L420.7 352.9L422.2 353.0L423.7 353.0L425.3 353.0L426.8 353.1L428.3 353.1L429.8 353.1L431.3 353.2L432.8 353.2L434.3 353.3L435.8 353.3L437.3 353.3L438.8 353.4L440.3 353.4L441.8 353.4L443.3 353.5L444.8 353.5L446.3 353.6L447.8 353.6L449.3 353.6L450.8 353.7L452.3 353.7L453.8 353.7L455.3 353.8L456.8 353.8L458.3 353.8L459.8 353.9L461.3 353.9L462.8 353.9L464.3 353.9L465.8 354.0L467.3 354.0L468.8 354.0L470.3 354.1L471.8 354.1L473.3 354.1L474.8 354.2L476.3 354.2L477.8 354.2L479.3 354.3L480.8 354.3L482.3 354.3L483.8 354.4L485.3 354.4L486.8 354.4L488.3 354.5L489.8 354.5L491.3 354.5L492.8 354.6L494.3 354.6L495.8 354.6L497.3 354.6L498.8 354.7L500.3 354.7L501.8 354.7L503.3 354.8L504.8 354.8L506.3 354.8L507.8 354.8L509.3 354.9L510.8 354.9L512.3 354.9L513.8 355.0L515.3 355.0L516.8 355.0L518.3 355.0L519.8 355.1L521.3 355.1L522.8 355.1L524.3 355.1L525.8 355.1L527.3 355.2L528.8 355.2L530.3 355.2L531.8 355.2L533.4 355.3L534.9 355.3L536.4 355.3L537.9 355.3L539.4 355.3L540.9 355.4L542.4 355.4L543.9 355.4L545.4 355.4L546.9 355.4L548.4 355.4L549.9 355.5L551.4 355.5L552.9 355.5L554.4 355.5L555.9 355.5L557.4 355.5L558.9 355.6L560.4 355.6L561.9 355.6L563.4 355.6L564.9 355.6L566.4 355.6L567.9 355.7L569.4 355.7L570.9 355.7L572.4 355.7L573.9 355.7L575.4 355.7L576.9 355.7L578.4 355.8L579.9 355.8L581.4 355.8L582.9 355.8L584.4 355.8L585.9 355.8L587.4 355.8L588.9 355.8L590.4 355.9L591.9 355.9L593.4 355.9L594.9 355.9L596.4 355.9L597.9 355.9L599.4 355.9L600.9 355.9L602.4 356.0L603.9 356.0L605.4 356.0L606.9 356.0L608.4 356.0L609.9 356.0L611.4 356.0L612.9 356.0L614.4 356.1L615.9 356.1L617.4 356.1L618.9 356.1L620.4 356.1L621.9 356.1L623.4 356.1L624.9 356.1L626.5 356.2L628.0 356.2L629.5 356.2L631.0 356.2L632.5 356.2L634.0 356.2L635.5 356.2L637.0 356.2L638.5 356.3L640.0 356.3L641.5 356.3L643.0 356.3L644.5 356.3L646.0 356.3L647.5 356.3L649.0 356.3L650.5 356.3L652.0 356.4L653.5 356.4L655.0 356.4L656.5 356.4L658.0 356.4L659.5 356.4L661.0 356.4L662.5 356.4L664.0 356.4L665.5 356.5L667.0 356.5L668.5 356.5L670.0 356.5L671.5 356.5L673.0 356.5L674.5 356.5L676.0 356.5L677.5 356.5L679.0 356.6L680.5 356.6L682.0 356.6L683.5 356.6L685.0 356.6L686.5 356.6L688.0 356.6L689.5 356.6L691.0 356.6L692.5 356.6L694.0 356.7L695.5 356.7L697.0 356.7L698.5 356.7L700.0 356.7L701.5 356.7L703.0 356.7L704.5 356.7L706.0 356.7L707.5 356.7L709.0 356.8L710.5 356.8L712.0 356.8L713.5 356.8L715.0 356.8L716.6 356.8L718.1 356.8L719.6 356.8L721.1 356.8L722.6 356.8L724.1 356.8L725.6 356.9L727.1 356.9L728.6 356.9L730.1 356.9L731.6 356.9L733.1 356.9L734.6 356.9L736.1 356.9L737.6 356.9L739.1 356.9L740.6 356.9L742.1 357.0" stroke="#0000AA" stroke-width="5.3" stroke-dasharray="10.8 1.3"/>
</g>
<g stroke="#000">
<line x1="107.4" y1="474.5" x2="107.4" y2="469.8" stroke-width="3.3"/>
<line x1="107.4" y1="64.2" x2="107.4" y2="68.9" stroke-width="3.3"/>
<line x1="124.6" y1="474.5" x2="124.6" y2="471.4" stroke-width="2.8"/>
<line x1="124.6" y1="64.2" x2="124.6" y2="67.3" stroke-width="2.8"/>
<line x1="141.8" y1="474.5" x2="141.8" y2="471.4" stroke-width="2.8"/>
<line x1="141.8" y1="64.2" x2="141.8" y2="67.3" stroke-width="2.8"/>
<line x1="159.0" y1="474.5" x2="159.0" y2="471.4" stroke-width="2.8"/>
<line x1="159.0" y1="64.2" x2="159.0" y2="67.3" stroke-width="2.8"/>
<line x1="176.2" y1="474.5" x2="176.2" y2="471.4" stroke-width="2.8"/>
<line x1="176.2" y1="64.2" x2="176.2" y2="67.3" stroke-width="2.8"/>
<line x1="193.4" y1="474.5" x2="193.4" y2="469.8" stroke-width="3.3"/>
<line x1="193.4" y1="64.2" x2="193.4" y2="68.9" stroke-width="3.3"/>
<line x1="210.6" y1="474.5" x2="210.6" y2="471.4" stroke-width="2.8"/>
<line x1="210.6" y1="64.2" x2="210.6" y2="67.3" stroke-width="2.8"/>
<line x1="227.8" y1="474.5" x2="227.8" y2="471.4" stroke-width="2.8"/>
<line x1="227.8" y1="64.2" x2="227.8" y2="67.3" stroke-width="2.8"/>
<line x1="245.0" y1="474.5" x2="245.0" y2="471.4" stroke-width="2.8"/>
<line x1="245.0" y1="64.2" x2="245.0" y2="67.3" stroke-width="2.8"/>
<line x1="262.2" y1="474.5" x2="262.2" y2="471.4" stroke-width="2.8"/>
<line x1="262.2" y1="64.2" x2="262.2" y2="67.3" stroke-width="2.8"/>
<line x1="279.4" y1="474.5" x2="279.4" y2="469.8" stroke-width="3.3"/>
<line x1="279.4" y1="64.2" x2="279.4" y2="68.9" stroke-width="3.3"/>
<line x1="296.6" y1="474.5" x2="296.6" y2="471.4" stroke-width="2.8"/>
<line x1="296.6" y1="64.2" x2="296.6" y2="67.3" stroke-width="2.8"/>
<line x1="313.8" y1="474.5" x2="313.8" y2="471.4" stroke-width="2.8"/>
<line x1="313.8" y1="64.2" x2="313.8" y2="67.3" stroke-width="2.8"/>
<line x1="331.0" y1="474.5" x2="331.0" y2="471.4" stroke-width="2.8"/>
<line x1="331.0" y1="64.2" x2="331.0" y2="67.3" stroke-width="2.8"/>
<line x1="348.2" y1="474.5" x2="348.2" y2="471.4" stroke-width="2.8"/>
<line x1="348.2" y1="64.2" x2="348.2" y2="67.3" stroke-width="2.8"/>
<line x1="365.4" y1="474.5" x2="365.4" y2="469.8" stroke-width="3.3"/>
<line x1="365.4" y1="64.2" x2="365.4" y2="68.9" stroke-width="3.3"/>
<line x1="382.6" y1="474.5" x2="382.6" y2="471.4" stroke-width="2.8"/>
<line x1="382.6" y1="64.2" x2="382.6" y2="67.3" stroke-width="2.8"/>
<line x1="399.8" y1="474.5" x2="399.8" y2="471.4" stroke-width="2.8"/>
<line x1="399.8" y1="64.2" x2="399.8" y2="67.3" stroke-width="2.8"/>
<line x1="417.0" y1="474.5" x2="417.0" y2="471.4" stroke-width="2.8"/>
<line x1="417.0" y1="64.2" x2="417.0" y2="67.3" stroke-width="2.8"/>
<line x1="434.2" y1="474.5" x2="434.2" y2="471.4" stroke-width="2.8"/>
<line x1="434.2" y1="64.2" x2="434.2" y2="67.3" stroke-width="2.8"/>
<line x1="451.4" y1="474.5" x2="451.4" y2="469.8" stroke-width="3.3"/>
<line x1="451.4" y1="64.2" x2="451.4" y2="68.9" stroke-width="3.3"/>
<line x1="468.6" y1="474.5" x2="468.6" y2="471.4" stroke-width="2.8"/>
<line x1="468.6" y1="64.2" x2="468.6" y2="67.3" stroke-width="2.8"/>
<line x1="485.8" y1="474.5" x2="485.8" y2="471.4" stroke-width="2.8"/>
<line x1="485.8" y1="64.2" x2="485.8" y2="67.3" stroke-width="2.8"/>
<line x1="503.0" y1="474.5" x2="503.0" y2="471.4" stroke-width="2.8"/>
<line x1="503.0" y1="64.2" x2="503.0" y2="67.3" stroke-width="2.8"/>
<line x1="520.2" y1="474.5" x2="520.2" y2="471.4" stroke-width="2.8"/>
<line x1="520.2" y1="64.2" x2="520.2" y2="67.3" stroke-width="2.8"/>
<line x1="537.4" y1="474.5" x2="537.4" y2="469.8" stroke-width="3.3"/>
<line x1="537.4" y1="64.2" x2="537.4" y2="68.9" stroke-width="3.3"/>
<line x1="554.6" y1="474.5" x2="554.6" y2="471.4" stroke-width="2.8"/>
<line x1="554.6" y1="64.2" x2="554.6" y2="67.3" stroke-width="2.8"/>
<line x1="571.8" y1="474.5" x2="571.8" y2="471.4" stroke-width="2.8"/>
<line x1="571.8" y1="64.2" x2="571.8" y2="67.3" stroke-width="2.8"/>
<line x1="589.0" y1="474.5" x2="589.0" y2="471.4" stroke-width="2.8"/>
<line x1="589.0" y1="64.2" x2="589.0" y2="67.3" stroke-width="2.8"/>
<line x1="606.2" y1="474.5" x2="606.2" y2="471.4" stroke-width="2.8"/>
<line x1="606.2" y1="64.2" x2="606.2" y2="67.3" stroke-width="2.8"/>
<line x1="623.4" y1="474.5" x2="623.4" y2="469.8" stroke-width="3.3"/>
<line x1="623.4" y1="64.2" x2="623.4" y2="68.9" stroke-width="3.3"/>
<line x1="640.6" y1="474.5" x2="640.6" y2="471.4" stroke-width="2.8"/>
<line x1="640.6" y1="64.2" x2="640.6" y2="67.3" stroke-width="2.8"/>
<line x1="657.8" y1="474.5" x2="657.8" y2="471.4" stroke-width="2.8"/>
<line x1="657.8" y1="64.2" x2="657.8" y2="67.3" stroke-width="2.8"/>
<line x1="675.0" y1="474.5" x2="675.0" y2="471.4" stroke-width="2.8"/>
<line x1="675.0" y1="64.2" x2="675.0" y2="67.3" stroke-width="2.8"/>
<line x1="692.2" y1="474.5" x2="692.2" y2="471.4" stroke-width="2.8"/>
<line x1="692.2" y1="64.2" x2="692.2" y2="67.3" stroke-width="2.8"/>
<line x1="709.4" y1="474.5" x2="709.4" y2="469.8" stroke-width="3.3"/>
<line x1="709.4" y1="64.2" x2="709.4" y2="68.9" stroke-width="3.3"/>
<line x1="726.6" y1="474.5" x2="726.6" y2="471.4" stroke-width="2.8"/>
<line x1="726.6" y1="64.2" x2="726.6" y2="67.3" stroke-width="2.8"/>
<line x1="743.8" y1="474.5" x2="743.8" y2="471.4" stroke-width="2.8"/>
<line x1="743.8" y1="64.2" x2="743.8" y2="67.3" stroke-width="2.8"/>
<line x1="90.3" y1="474.5" x2="95.0" y2="474.5" stroke-width="3.3"/>
<line x1="754.5" y1="474.5" x2="749.8" y2="474.5" stroke-width="3.3"/>
<line x1="90.3" y1="454.0" x2="93.4" y2="454.0" stroke-width="2.8"/>
<line x1="754.5" y1="454.0" x2="751.4" y2="454.0" stroke-width="2.8"/>
<line x1="90.3" y1="433.5" x2="93.4" y2="433.5" stroke-width="2.8"/>
<line x1="754.5" y1="433.5" x2="751.4" y2="433.5" stroke-width="2.8"/>
<line x1="90.3" y1="413.0" x2="93.4" y2="413.0" stroke-width="2.8"/>
<line x1="754.5" y1="413.0" x2="751.4" y2="413.0" stroke-width="2.8"/>
<line x1="90.3" y1="392.5" x2="95.0" y2="392.5" stroke-width="3.3"/>
<line x1="754.5" y1="392.5" x2="749.8" y2="392.5" stroke-width="3.3"/>
<line x1="90.3" y1="372.0" x2="93.4" y2="372.0" stroke-width="2.8"/>
<line x1="754.5" y1="372.0" x2="751.4" y2="372.0" stroke-width="2.8"/>
<line x1="90.3" y1="351.5" x2="93.4" y2="351.5" stroke-width="2.8"/>
<line x1="754.5" y1="351.5" x2="751.4" y2="351.5" stroke-width="2.8"/>
<line x1="90.3" y1="331.0" x2="93.4" y2="331.0" stroke-width="2.8"/>
<line x1="754.5" y1="331.0" x2="751.4" y2="331.0" stroke-width="2.8"/>
<line x1="90.3" y1="310.5" x2="95.0" y2="310.5" stroke-width="3.3"/>
<line x1="754.5" y1="310.5" x2="749.8" y2="310.5" stroke-width="3.3"/>
<line x1="90.3" y1="290.0" x2="93.4" y2="290.0" stroke-width="2.8"/>
<line x1="754.5" y1="290.0" x2="751.4" y2="290.0" stroke-width="2.8"/>
<line x1="90.3" y1="269.5" x2="93.4" y2="269.5" stroke-width="2.8"/>
<line x1="754.5" y1="269.5" x2="751.4" y2="269.5" stroke-width="2.8"/>
<line x1="90.3" y1="249.0" x2="93.4" y2="249.0" stroke-width="2.8"/>
<line x1="754.5" y1="249.0" x2="751.4" y2="249.0" stroke-width="2.8"/>
<line x1="90.3" y1="228.5" x2="95.0" y2="228.5" stroke-width="3.3"/>
<line x1="754.5" y1="228.5" x2="749.8" y2="228.5" stroke-width="3.3"/>
<line x1="90.3" y1="208.0" x2="93.4" y2="208.0" stroke-width="2.8"/>
<line x1="754.5" y1="208.0" x2="751.4" y2="208.0" stroke-width="2.8"/>
<line x1="90.3" y1="187.5" x2="93.4" y2="187.5" stroke-width="2.8"/>
<line x1="754.5" y1="187.5" x2="751.4" y2="187.5" stroke-width="2.8"/>
<line x1="90.3" y1="167.0" x2="93.4" y2="167.0" stroke-width="2.8"/>
<line x1="754.5" y1="167.0" x2="751.4" y2="167.0" stroke-width="2.8"/>
<line x1="90.3" y1="146.5" x2="95.0" y2="146.5" stroke-width="3.3"/>
<line x1="754.5" y1="146.5" x2="749.8" y2="146.5" stroke-width="3.3"/>
<line x1="90.3" y1="126.0" x2="93.4" y2="126.0" stroke-width="2.8"/>
<line x1="754.5" y1="126.0" x2="751.4" y2="126.0" stroke-width="2.8"/>
<line x1="90.3" y1="105.5" x2="93.4" y2="105.5" stroke-width="2.8"/>
<line x1="754.5" y1="105.5" x2="751.4" y2="105.5" stroke-width="2.8"/>
<line x1="90.3" y1="85.0" x2="93.4" y2="85.0" stroke-width="2.8"/>
<line x1="754.5" y1="85.0" x2="751.4" y2="85.0" stroke-width="2.8"/>
<line x1="90.3" y1="64.5" x2="95.0" y2="64.5" stroke-width="3.3"/>
<line x1="754.5" y1="64.5" x2="749.8" y2="64.5" stroke-width="3.3"/>
</g>
<rect x="90.35" y="64.20" width="664.15" height="410.30" fill="none" stroke="#000" stroke-width="3.3"/>
<g opacity="0.999">
<text transform="translate(101.19 501.34) scale(0.9787 1.0044)" font-size="27" class="e2">0</text>
<text transform="translate(186.58 501.33) scale(1.0297 1.0199)" font-size="27" class="e2">5</text>
<text transform="translate(265.39 501.34) scale(1.0170 1.0044)" font-size="27" class="e2">10</text>
<text transform="translate(351.38 501.33) scale(1.0181 1.0117)" font-size="27" class="e2">15</text>
<text transform="translate(438.32 501.34) scale(0.9925 1.0044)" font-size="27" class="e2">20</text>
<text transform="translate(524.32 501.33) scale(0.9936 1.0088)" font-size="27" class="e2">25</text>
<text transform="translate(610.21 501.34) scale(0.9968 1.0044)" font-size="27" class="e2">30</text>
<text transform="translate(696.21 501.33) scale(0.9978 1.0088)" font-size="27" class="e2">35</text>
<text transform="translate(72.29 481.63) scale(0.9787 1.0099)" font-size="27" class="e2">0</text>
<text transform="translate(72.07 399.90) scale(1.0348 1.0293)" font-size="27" class="e2">2</text>
<text transform="translate(72.83 317.90) scale(0.8924 1.0354)" font-size="27" class="e2">4</text>
<text transform="translate(72.17 235.63) scale(0.9709 1.0143)" font-size="27" class="e2">6</text>
<text transform="translate(72.29 153.63) scale(0.9787 1.0099)" font-size="27" class="e2">8</text>
<text transform="translate(57.76 71.63) scale(1.0297 1.0099)" font-size="27" class="e2">10</text>
<text transform="translate(321.55 33.20) scale(1.1490 1.0192)" font-size="34" class="i e">λ</text>
<text transform="translate(339.88 32.99) scale(1.1735 1.0510)" font-size="34" class="i e">ϕ</text>
<text transform="translate(360.91 18.40) scale(1.0850 1.0041)" font-size="23" class="e">4</text>
<text transform="translate(376.16 33.60) scale(1.0000 1.0000)" font-size="30" class="e">,</text>
<text transform="translate(392.83 33.38) scale(1.0584 0.9656)" font-size="34" class="e">unbiased</text>
<text transform="translate(412.55 550.29) scale(1.0967 0.9515)" font-size="37" class="i e">η</text>
<g transform="translate(0 567) rotate(-90)">
<text transform="translate(242.26 34.53) scale(1.1264 0.9866)" font-size="37" class="i e">ρ</text>
<line x1="258.80" y1="42.80" x2="272.70" y2="5.40" stroke="#000" stroke-width="1.6"/>
<path d="M287.20 5.40 Q263.20 24.10 287.20 42.80 Q267.60 24.10 287.20 5.40Z" fill="#000" stroke="#000" stroke-width="0.8" stroke-linejoin="round"/>
<text transform="translate(288.77 34.49) scale(1.0262 0.8642)" font-size="37" class="i e">σ</text>
<text transform="translate(310.89 34.30) scale(0.9903 1.0113)" font-size="37" class="i e">H</text>
<path d="M340.50 5.40 Q363.70 24.10 340.50 42.80 Q359.30 24.10 340.50 5.40Z" fill="#000" stroke="#000" stroke-width="0.8" stroke-linejoin="round"/>
</g>
<rect x="483.6" y="87.8" width="248.5" height="99.0" fill="none" stroke="#1a1a1a" stroke-width="1.3"/>
<line x1="492" y1="116.5" x2="507.6" y2="116.5" stroke="#7f7f7f" stroke-width="2.5"/>
<line x1="492" y1="158.7" x2="507.6" y2="158.7" stroke="#7f7f7f" stroke-width="2.5" stroke-dasharray="9.3 3.4 2.9 9"/>
<text transform="translate(520.61 124.40) scale(1.1100 1.0241)" font-size="25.5" class="i e2">N</text>
<text transform="translate(547.82 126.63) scale(1.3990 1.1608)" font-size="25.5" class="e2">=</text>
<text transform="translate(574.74 124.45) scale(0.9486 1.0170)" font-size="25.5" class="e2">3060</text>
<text transform="translate(623.60 124.79) scale(1.2376 1.1757)" font-size="25.5" class="e2">,</text>
<text transform="translate(637.62 124.40) scale(1.0698 1.0241)" font-size="25.5" class="i e2">L</text>
<text transform="translate(659.36 126.63) scale(1.3737 1.1608)" font-size="25.5" class="e2">=</text>
<text transform="translate(685.23 124.70) scale(0.9688 1.0396)" font-size="25.5" class="e2">141</text>
<text transform="translate(520.61 166.80) scale(1.1100 1.0241)" font-size="25.5" class="i e2">N</text>
<text transform="translate(547.82 169.03) scale(1.3990 1.1608)" font-size="25.5" class="e2">=</text>
<text transform="translate(574.74 166.85) scale(0.9486 1.0170)" font-size="25.5" class="e2">3060</text>
<text transform="translate(623.60 167.19) scale(1.2376 1.1757)" font-size="25.5" class="e2">,</text>
<text transform="translate(637.62 166.80) scale(1.0698 1.0241)" font-size="25.5" class="i e2">L</text>
<text transform="translate(659.36 169.03) scale(1.3737 1.1608)" font-size="25.5" class="e2">=</text>
<text transform="translate(684.84 166.85) scale(0.9891 1.0170)" font-size="25.5" class="e2">70</text>
<line x1="531.9" y1="216.7" x2="550.6999999999999" y2="216.7" stroke="#E19C24" stroke-width="2.7"/>
<text transform="translate(564.33 222.90) scale(1.0423 1.0069)" font-size="25.5" class="e2">Kin</text>
<line x1="632.4" y1="216.7" x2="651.1999999999999" y2="216.7" stroke="#EB6235" stroke-width="2.7"/>
<text transform="translate(665.31 222.95) scale(1.0805 1.0209)" font-size="25.5" class="e2">Pot</text>
<line x1="531.9" y1="259.0" x2="550.6999999999999" y2="259.0" stroke="#8FB032" stroke-width="2.7"/>
<text transform="translate(564.38 265.45) scale(1.0702 1.0088)" font-size="25.5" class="e2">Grad</text>
<line x1="632.4" y1="259.0" x2="651.1999999999999" y2="259.0" stroke="#0000AA" stroke-width="4.6"/>
<text transform="translate(665.31 265.25) scale(1.0560 0.9977)" font-size="25.5" class="e2">Total</text>
</g>
</svg></body></html>
